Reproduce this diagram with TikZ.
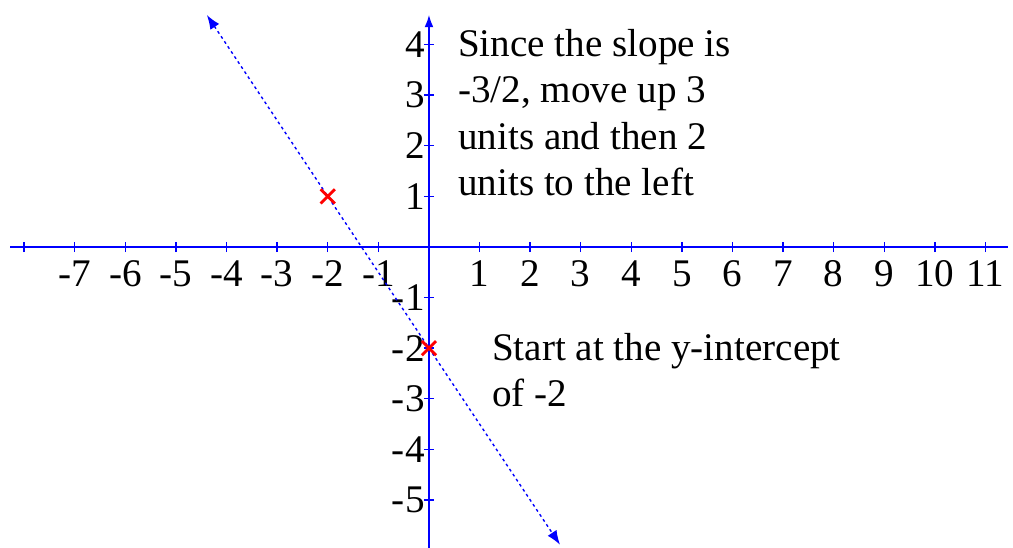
\documentclass[tikz,border=0pt]{standalone}
\usepackage{fontspec}
\setmainfont{LiberationSerif}[Extension=.ttf, UprightFont=*-Regular, BoldFont=*-Bold]
\usetikzlibrary{arrows.meta}
\definecolor{axisblue}{RGB}{0,0,255}
\definecolor{markred}{RGB}{255,0,0}
\tikzset{
  axisline/.style={axisblue, line width=1pt},
  tickmark/.style={axisblue, line width=0.8pt},
  ticklabel/.style={font=\rmfamily\fontsize{22}{26}\selectfont, inner sep=0pt},
  note/.style={font=\rmfamily\fontsize{22}{26}\selectfont, inner sep=0pt, align=left, anchor=north west},
  cross/.style={markred, line width=1.6pt},
  guide/.style={axisblue, line width=0.8pt, dash pattern=on 1.6pt off 1.8pt,
    {Latex[length=8pt,width=6pt]}-{Latex[length=8pt,width=6pt]}},
}
\begin{document}
\begin{tikzpicture}
\useasboundingbox (-8.478,-5.949) rectangle (11.542,4.881);
%draw coordinate system
\draw[axisline] (-8.28,0) -- (11.45,0);
\draw[axisline, -{Latex[length=7pt,width=5pt]}] (0,-5.949) -- (0,4.59);
\foreach \x in {-8,...,-1,1,2,...,11}
  \draw[tickmark] (\x,-0.1) -- (\x,0.1);
\foreach \y in {-5,...,-1,1,2,3,4}
  \draw[tickmark] (-0.1,\y) -- (0.1,\y);
%draw tick labels
\foreach \x in {-7,...,-1,1,2,...,11}
  \node[ticklabel, anchor=base] (xl\x) at (\x,-0.79) {\x};
\foreach \y in {-5,...,-1,1,2,3,4}
  \node[ticklabel, anchor=east] (yl\y) at (-0.08,\y) {\y};
%draw line through the two points
\coordinate (linetop) at (-4.39,4.585);
\coordinate (linebottom) at (2.59,-5.885);
\draw[guide] (linetop) -- (linebottom);
%draw points
\draw[cross] (-2.14,0.86) -- (-1.86,1.14) (-2.14,1.14) -- (-1.86,0.86);
\draw[cross] (-0.14,-2.14) -- (0.14,-1.86) (-0.14,-1.86) -- (0.14,-2.14);
%draw notes
\node[note] (slope) at (0.57,4.306) {Since the slope is\\-3/2, move up 3\\units and then 2\\units to the left};
\node[note] (start) at (1.24,-1.702) {Start at the y-intercept\\of -2};
\end{tikzpicture}
\end{document}
